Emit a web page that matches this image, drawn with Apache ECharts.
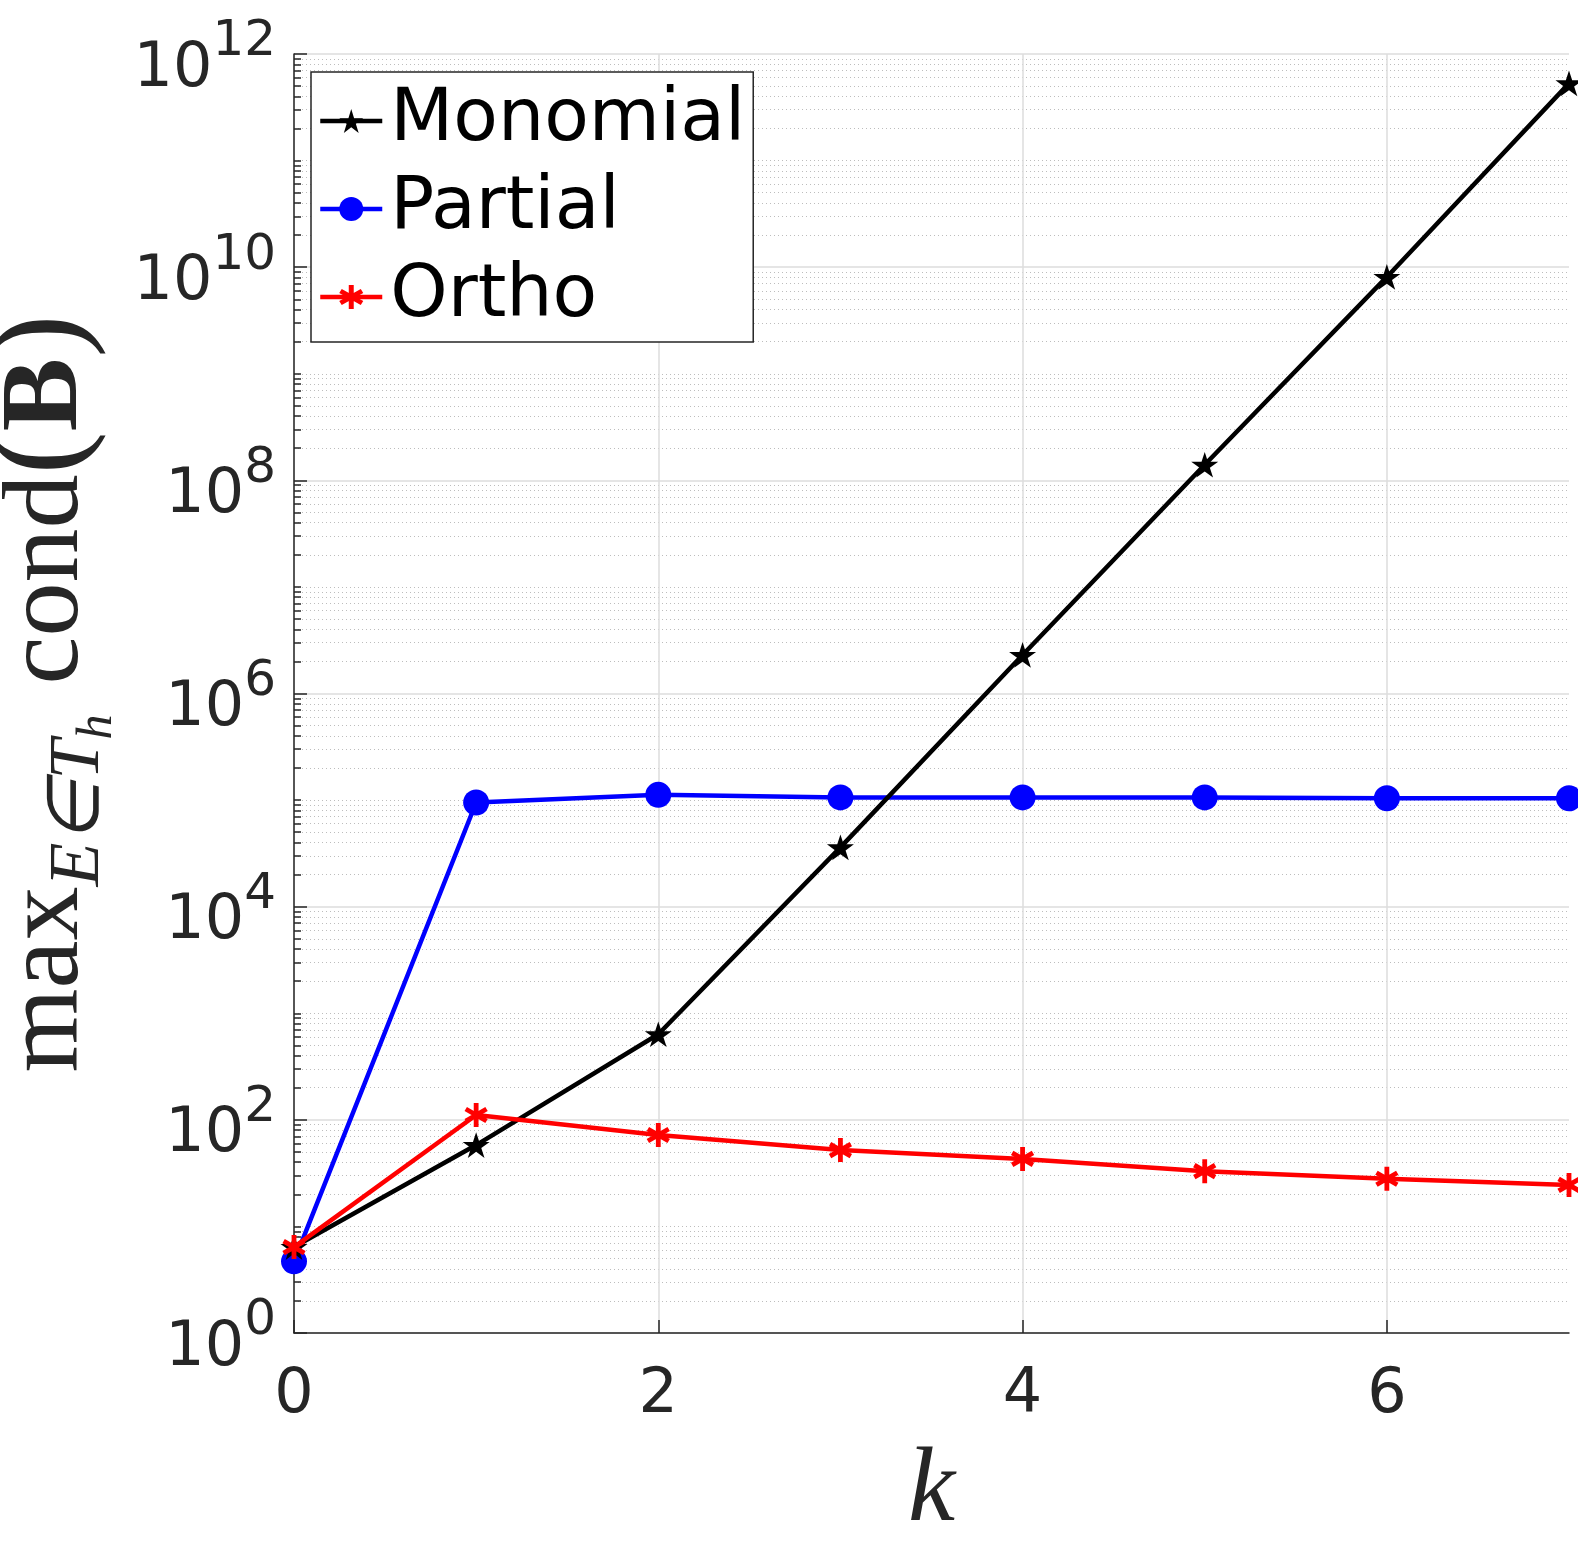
<!DOCTYPE html>
<html>
<head>
<meta charset="utf-8">
<script src="https://cdn.jsdelivr.net/npm/echarts@6/dist/echarts.min.js"></script>
<style>
html, body { margin: 0; padding: 0; background: #fff; }
#chart { width: 1578px; height: 1552px; }
</style>
</head>
<body>
<div id="chart"></div>
<script>
// values
var kValues = [0, 1, 2, 3, 4, 5, 6, 7];
var monomial = [6.4, 58, 635, 3.6e4, 2.3e6, 1.4e8, 8.1e9, 5.3e11];
var partial = [4.7, 9.5e4, 1.12e5, 1.06e5, 1.06e5, 1.06e5, 1.04e5, 1.04e5];
var ortho = [6.4, 111, 72, 52, 43, 33, 28, 24.5];
var seriesNames = ['Monomial', 'Partial', 'Ortho'];
var xTicks = [0, 2, 4, 6];
var yTicks = [1, 1e2, 1e4, 1e6, 1e8, 1e10, 1e12];

// minor log grid positions (2..9 of every decade, plus the odd decades)
var yMinor = [];
for (var e = 0; e < 12; e++) {
    for (var m = 1; m < 10; m++) {
        if (m === 1 && e % 2 === 0) continue;
        yMinor.push(m * Math.pow(10, e));
    }
}

function pairs(ys) {
    return kValues.map(function (k, i) { return [k, ys[i]]; });
}

var starPath = 'path://M100,0 L122.45,69.1 L195.1,69.1 L136.33,111.8 L158.78,180.9 L100,138.2 L41.22,180.9 L63.67,111.8 L4.9,69.1 L77.55,69.1 Z';
// asterisk: vertical bar + two bars at +-30 deg, all drawn clockwise
var asteriskPath = 'path://M40,0 L60,0 L60,100 L40,100 Z' +
    ' M1.7,33.66 L11.7,16.34 L98.3,66.34 L88.3,83.66 Z' +
    ' M11.7,83.66 L1.7,66.34 L88.3,16.34 L98.3,33.66 Z';

var axisColor = '#262626';
var tickFont = 'DejaVu Sans';
var serif = 'Liberation Serif';

var chart = echarts.init(document.getElementById('chart'));

var option = {
    animation: false,
    backgroundColor: '#fff',
    grid: {
        left: 294,
        right: 9,
        top: 54,
        bottom: 219,
        containLabel: false,
        outerBoundsMode: 'none'
    },
    legend: {
        orient: 'vertical',
        left: 311,
        top: 72,
        data: seriesNames,
        backgroundColor: '#fff',
        borderColor: axisColor,
        borderWidth: 1.5,
        borderRadius: 0,
        padding: [5, 8, 1, 7],
        itemGap: 0,
        itemWidth: 62,
        itemHeight: 30,
        lineStyle: { width: 4.5 },
        textStyle: {
            fontFamily: tickFont,
            fontSize: 73,
            color: '#000',
            lineHeight: 88,
            padding: [0, 0, 0, 3]
        }
    },
    xAxis: {
        type: 'value',
        min: 0,
        max: 7,
        name: 'k',
        nameLocation: 'middle',
        nameGap: 106,
        nameTextStyle: {
            fontFamily: serif,
            fontStyle: 'italic',
            fontSize: 106,
            color: axisColor
        },
        axisLine: { show: true, lineStyle: { color: axisColor, width: 1.5 } },
        axisTick: {
            show: true,
            inside: true,
            length: 13,
            customValues: xTicks,
            lineStyle: { color: axisColor, width: 1.5 }
        },
        axisLabel: {
            customValues: xTicks,
            margin: 32,
            fontFamily: tickFont,
            fontSize: 62,
            color: axisColor
        },
        splitLine: { show: true, lineStyle: { color: '#dcdcdc', width: 1.5 } }
    },
    yAxis: [{
        type: 'log',
        logBase: 10,
        min: 1,
        max: 1e12,
        position: 'left',
        name: '{m|max}{s|E\u2208T}{h|h}{g|}{m|cond}{p|(}{b|B}{p|)}',
        nameLocation: 'middle',
        nameGap: 165,
        nameRotate: 90,
        nameTextStyle: {
            color: axisColor,
            rich: {
                m: { fontFamily: serif, fontSize: 108, lineHeight: 128, padding: [0, 0, 20, 0], verticalAlign: 'bottom', color: axisColor },
                p: { fontFamily: serif, fontSize: 130, lineHeight: 144, padding: [0, 0, 14, 0], verticalAlign: 'bottom', color: axisColor },
                b: { fontFamily: serif, fontWeight: 'bold', fontSize: 110, lineHeight: 130, padding: [0, 0, 20, 0], verticalAlign: 'bottom', color: axisColor },
                s: { fontFamily: serif, fontStyle: 'italic', fontSize: 72, lineHeight: 80, padding: [0, 0, 8, 0], verticalAlign: 'bottom', color: axisColor },
                h: { fontFamily: serif, fontStyle: 'italic', fontSize: 50, lineHeight: 50, verticalAlign: 'bottom', color: axisColor },
                g: { width: 30, fontSize: 20, lineHeight: 20, verticalAlign: 'bottom' }
            }
        },
        axisLine: { show: true, lineStyle: { color: axisColor, width: 1.5 } },
        axisTick: {
            show: true,
            inside: true,
            length: 13,
            customValues: yTicks,
            lineStyle: { color: axisColor, width: 1.5 }
        },
        axisLabel: {
            customValues: yTicks,
            margin: 18,
            formatter: function (v) {
                return '{b|10}{s|' + Math.round(Math.log10(v)) + '}';
            },
            rich: {
                b: { fontFamily: tickFont, fontSize: 62, lineHeight: 62, verticalAlign: 'bottom', color: axisColor },
                s: { fontFamily: tickFont, fontSize: 50, lineHeight: 93, padding: [10, 0, 33, 0], verticalAlign: 'bottom', color: axisColor }
            }
        },
        splitLine: { show: true, lineStyle: { color: '#dcdcdc', width: 1.5 } }
    }, {
        type: 'log',
        logBase: 10,
        min: 1,
        max: 1e12,
        position: 'left',
        offset: 0,
        axisLine: { show: false },
        axisLabel: { show: false },
        axisTick: {
            show: true,
            inside: true,
            length: 7,
            customValues: yMinor,
            lineStyle: { color: axisColor, width: 1.5 }
        },
        splitLine: { show: true, lineStyle: { color: '#bdbdbd', width: 1, type: [1, 3] } }
    }],
    series: [{
        name: seriesNames[0],
        type: 'line',
        data: pairs(monomial),
        symbol: starPath,
        symbolKeepAspect: true,
        symbolSize: 27,
        color: '#000',
        lineStyle: { color: '#000', width: 4.5 },
        itemStyle: { color: '#000' },
        z: 3
    }, {
        name: seriesNames[1],
        type: 'line',
        data: pairs(partial),
        symbol: 'circle',
        symbolSize: 26,
        color: '#0000ff',
        lineStyle: { color: '#0000ff', width: 4.5 },
        itemStyle: { color: '#0000ff' },
        z: 2
    }, {
        name: seriesNames[2],
        type: 'line',
        data: pairs(ortho),
        symbol: asteriskPath,
        symbolKeepAspect: true,
        symbolSize: 24,
        color: '#ff0000',
        lineStyle: { color: '#ff0000', width: 4.5 },
        itemStyle: { color: '#ff0000' },
        z: 4
    }]
};

chart.setOption(option);
</script>
</body>
</html>
